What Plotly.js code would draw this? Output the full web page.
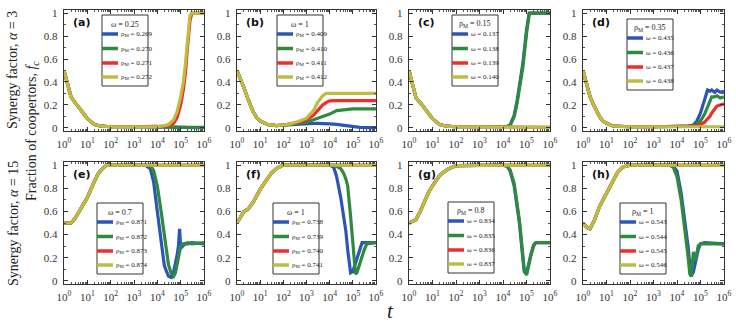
<!DOCTYPE html>
<html>
<head>
<meta charset="utf-8">
<script src="https://cdn.plot.ly/plotly-3.0.1.min.js"></script>
<style>
  html, body { margin: 0; padding: 0; background: #fff; }
  #chart { width: 736px; height: 322px; }
</style>
</head>
<body>
<div id="chart"></div>
<script>
// tick labels
const tickT = [1, 10, 100, 1e3, 1e4, 1e5, 1e6];
const tickTText = ['10<sup>0</sup>', '10<sup>1</sup>', '10<sup>2</sup>', '10<sup>3</sup>', '10<sup>4</sup>', '10<sup>5</sup>', '10<sup>6</sup>'];
const tickF = [0, 0.2, 0.4, 0.6, 0.8, 1];
const tickFText = ['0', '0.2', '0.4', '0.6', '0.8', '1'];

const panelLabels = ['(a)', '(b)', '(c)', '(d)', '(e)', '(f)', '(g)', '(h)'];
const legendTitles = ['ω = 0.25', 'ω = 1', 'ρ<sub>M</sub> = 0.15', 'ρ<sub>M</sub> = 0.35',
                      'ω = 0.7', 'ω = 1', 'ρ<sub>M</sub> = 0.8', 'ρ<sub>M</sub> = 1'];
const seriesNames = [
  ['ρ<sub>M</sub> = 0.269', 'ρ<sub>M</sub> = 0.270', 'ρ<sub>M</sub> = 0.271', 'ρ<sub>M</sub> = 0.272'],
  ['ρ<sub>M</sub> = 0.409', 'ρ<sub>M</sub> = 0.410', 'ρ<sub>M</sub> = 0.411', 'ρ<sub>M</sub> = 0.412'],
  ['ω = 0.137', 'ω = 0.138', 'ω = 0.139', 'ω = 0.140'],
  ['ω = 0.435', 'ω = 0.436', 'ω = 0.437', 'ω = 0.438'],
  ['ρ<sub>M</sub> = 0.871', 'ρ<sub>M</sub> = 0.872', 'ρ<sub>M</sub> = 0.873', 'ρ<sub>M</sub> = 0.874'],
  ['ρ<sub>M</sub> = 0.738', 'ρ<sub>M</sub> = 0.739', 'ρ<sub>M</sub> = 0.740', 'ρ<sub>M</sub> = 0.741'],
  ['ω = 0.834', 'ω = 0.835', 'ω = 0.836', 'ω = 0.837'],
  ['ω = 0.543', 'ω = 0.544', 'ω = 0.545', 'ω = 0.546']
];

// (a) alpha = 3, omega = 0.25
const tA = [1, 1.5, 2, 3, 4, 6, 10, 20, 40, 100, 1e3, 1e4, 2e4, 3e4, 5e4, 7e4, 1e5, 1.3e5, 1.6e5, 2e5, 2.5e5, 3e5, 5e5, 1e6];
const aBlue   = [0.5, 0.37, 0.27, 0.22, 0.19, 0.14, 0.08, 0.03, 0.015, 0.01, 0.01, 0.01, 0.01, 0.008, 0.006, 0.005, 0.004, 0.004, 0.004, 0.003, 0.003, 0.003, 0.003, 0.003];
const aGreen  = [0.5, 0.37, 0.27, 0.22, 0.19, 0.14, 0.08, 0.03, 0.015, 0.01, 0.01, 0.01, 0.012, 0.01, 0.008, 0.006, 0.005, 0.005, 0.004, 0.004, 0.004, 0.004, 0.004, 0.004];
const aRed    = [0.5, 0.37, 0.27, 0.22, 0.19, 0.14, 0.08, 0.03, 0.015, 0.01, 0.01, 0.01, 0.015, 0.02, 0.04, 0.09, 0.2, 0.33, 0.48, 0.72, 0.93, 1, 1, 1];
const aYellow = [0.5, 0.37, 0.27, 0.22, 0.19, 0.14, 0.08, 0.03, 0.015, 0.01, 0.01, 0.01, 0.02, 0.03, 0.07, 0.14, 0.27, 0.4, 0.56, 0.8, 0.98, 1, 1, 1];

// (b) alpha = 3, omega = 1
const tB = [1, 1.5, 2, 3, 5, 7, 10, 20, 50, 100, 200, 500, 1e3, 2e3, 3e3, 5e3, 7e3, 1e4, 2e4, 5e4, 1e5, 2e5, 5e5, 1e6];
const bBlue   = [0.5, 0.42, 0.35, 0.25, 0.14, 0.09, 0.06, 0.03, 0.02, 0.025, 0.03, 0.035, 0.04, 0.04, 0.04, 0.04, 0.038, 0.035, 0.03, 0.02, 0.01, 0.004, 0.003, 0.003];
const bGreen  = [0.5, 0.42, 0.35, 0.25, 0.14, 0.09, 0.06, 0.03, 0.02, 0.025, 0.03, 0.04, 0.05, 0.07, 0.085, 0.1, 0.11, 0.12, 0.15, 0.16, 0.165, 0.165, 0.165, 0.165];
const bRed    = [0.5, 0.42, 0.35, 0.25, 0.14, 0.09, 0.06, 0.03, 0.02, 0.025, 0.033, 0.05, 0.07, 0.11, 0.15, 0.2, 0.22, 0.235, 0.237, 0.237, 0.237, 0.237, 0.237, 0.237];
const bYellow = [0.5, 0.42, 0.35, 0.25, 0.14, 0.09, 0.06, 0.03, 0.02, 0.025, 0.035, 0.06, 0.085, 0.15, 0.22, 0.28, 0.3, 0.3, 0.3, 0.3, 0.3, 0.3, 0.3, 0.3];

// (c) alpha = 3, rhoM = 0.15
const tC = [1, 1.5, 2, 3, 4, 6, 10, 20, 40, 100, 1e3, 1e4, 1.5e4, 2e4, 3e4, 4e4, 5e4, 7e4, 1e5, 1.3e5, 1.5e5, 2e5, 5e5, 1e6];
const cBlue   = [0.5, 0.36, 0.26, 0.22, 0.19, 0.14, 0.08, 0.03, 0.015, 0.01, 0.01, 0.01, 0.012, 0.025, 0.11, 0.24, 0.36, 0.56, 0.85, 1, 1, 1, 1, 1];
const cGreen  = [0.5, 0.36, 0.26, 0.22, 0.19, 0.14, 0.08, 0.03, 0.015, 0.01, 0.01, 0.01, 0.012, 0.02, 0.1, 0.22, 0.33, 0.53, 0.82, 0.99, 1, 1, 1, 1];
const cRed    = [0.5, 0.36, 0.26, 0.22, 0.19, 0.14, 0.08, 0.03, 0.015, 0.01, 0.01, 0.01, 0.01, 0.01, 0.01, 0.008, 0.008, 0.007, 0.006, 0.006, 0.005, 0.005, 0.005, 0.005];
const cYellow = [0.5, 0.36, 0.26, 0.22, 0.19, 0.14, 0.08, 0.03, 0.015, 0.01, 0.01, 0.01, 0.01, 0.01, 0.009, 0.008, 0.008, 0.007, 0.006, 0.006, 0.005, 0.005, 0.005, 0.005];

// (d) alpha = 3, rhoM = 0.35
const tD = [1, 1.5, 2, 3, 5, 7, 10, 20, 50, 100, 1e3, 1e4, 3e4, 5e4, 7e4, 1e5, 1.5e5, 2e5, 2.5e5, 3e5, 4e5, 5e5, 7e5, 1e6];
const dBlue   = [0.5, 0.35, 0.27, 0.19, 0.1, 0.06, 0.04, 0.015, 0.01, 0.01, 0.01, 0.01, 0.015, 0.025, 0.06, 0.13, 0.25, 0.33, 0.32, 0.33, 0.31, 0.33, 0.31, 0.32];
const dGreen  = [0.5, 0.35, 0.27, 0.19, 0.1, 0.06, 0.04, 0.015, 0.01, 0.01, 0.01, 0.01, 0.012, 0.015, 0.03, 0.06, 0.12, 0.18, 0.24, 0.27, 0.27, 0.28, 0.26, 0.27];
const dRed    = [0.5, 0.35, 0.27, 0.19, 0.1, 0.06, 0.04, 0.015, 0.01, 0.01, 0.01, 0.01, 0.01, 0.01, 0.015, 0.03, 0.05, 0.08, 0.1, 0.13, 0.17, 0.19, 0.2, 0.21];
const dYellow = [0.5, 0.35, 0.27, 0.19, 0.1, 0.06, 0.04, 0.015, 0.01, 0.01, 0.01, 0.01, 0.01, 0.01, 0.01, 0.01, 0.01, 0.01, 0.01, 0.01, 0.01, 0.01, 0.01, 0.01];

// (e) alpha = 15, omega = 0.7
const tE = [1, 2, 3, 5, 7, 10, 20, 30, 50, 70, 100, 1e3, 3e3, 5e3, 7e3, 1e4, 1.5e4, 2e4, 3e4, 4e4, 5e4, 6e4, 7e4, 8e4, 9e4, 1e5, 1.2e5, 1.5e5, 2e5, 3e5, 1e6];
const eBlue   = [0.5, 0.5, 0.54, 0.62, 0.67, 0.72, 0.86, 0.93, 0.98, 1, 1, 1, 1, 0.97, 0.85, 0.6, 0.3, 0.13, 0.04, 0.03, 0.08, 0.15, 0.22, 0.3, 0.45, 0.28, 0.3, 0.32, 0.32, 0.33, 0.32];
const eGreen  = [0.5, 0.5, 0.54, 0.62, 0.67, 0.72, 0.86, 0.93, 0.98, 1, 1, 1, 1, 1, 0.95, 0.82, 0.58, 0.38, 0.14, 0.06, 0.04, 0.07, 0.13, 0.19, 0.25, 0.3, 0.32, 0.32, 0.33, 0.32, 0.33];
const eRed    = [0.5, 0.5, 0.54, 0.62, 0.67, 0.72, 0.86, 0.93, 0.98, 1, 1, 1, 1, 1, 1, 1, 1, 1, 1, 1, 1, 1, 1, 1, 1, 1, 1, 1, 1, 1, 1];
const eYellow = [0.5, 0.5, 0.54, 0.62, 0.67, 0.72, 0.86, 0.93, 0.98, 1, 1, 1, 1, 1, 1, 1, 1, 1, 1, 1, 1, 1, 1, 1, 1, 1, 1, 1, 1, 1, 1];

// (f) alpha = 15, omega = 1
const tF = [1, 2, 3, 5, 10, 20, 30, 50, 100, 1e3, 1e4, 1.5e4, 2e4, 3e4, 4e4, 5e4, 6e4, 7e4, 8e4, 1e5, 1.2e5, 1.3e5, 1.5e5, 2e5, 2.5e5, 3e5, 4e5, 1e6];
const fBlue   = [0.5, 0.6, 0.62, 0.68, 0.79, 0.88, 0.93, 0.97, 1, 1, 1, 0.98, 0.9, 0.72, 0.57, 0.43, 0.27, 0.15, 0.07, 0.08, 0.13, 0.16, 0.2, 0.28, 0.33, 0.33, 0.33, 0.33];
const fGreen  = [0.5, 0.6, 0.62, 0.68, 0.79, 0.88, 0.93, 0.97, 1, 1, 1, 1, 0.99, 0.97, 0.93, 0.88, 0.82, 0.7, 0.56, 0.33, 0.12, 0.06, 0.07, 0.14, 0.21, 0.26, 0.32, 0.33];
const fRed    = [0.5, 0.6, 0.62, 0.68, 0.79, 0.88, 0.93, 0.97, 1, 1, 1, 1, 1, 1, 1, 1, 1, 1, 1, 1, 1, 1, 1, 1, 1, 1, 1, 1];
const fYellow = [0.5, 0.6, 0.62, 0.68, 0.79, 0.88, 0.93, 0.97, 1, 1, 1, 1, 1, 1, 1, 1, 1, 1, 1, 1, 1, 1, 1, 1, 1, 1, 1, 1];

// (g) alpha = 15, rhoM = 0.8
const tG = [1, 2, 3, 5, 7, 10, 20, 30, 50, 100, 1e3, 1e4, 1.5e4, 2e4, 3e4, 4e4, 5e4, 6e4, 7e4, 8e4, 1e5, 1.2e5, 1.5e5, 2e5, 2.5e5, 3e5, 1e6];
const gBlue   = [0.5, 0.53, 0.6, 0.71, 0.77, 0.82, 0.91, 0.94, 0.97, 0.995, 1, 1, 0.99, 0.95, 0.82, 0.66, 0.5, 0.33, 0.19, 0.08, 0.06, 0.14, 0.22, 0.31, 0.33, 0.33, 0.33];
const gGreen  = [0.5, 0.53, 0.6, 0.71, 0.77, 0.82, 0.91, 0.94, 0.97, 0.995, 1, 1, 0.99, 0.96, 0.84, 0.68, 0.52, 0.36, 0.22, 0.1, 0.05, 0.13, 0.21, 0.3, 0.33, 0.33, 0.33];
const gRed    = [0.5, 0.53, 0.6, 0.71, 0.77, 0.82, 0.91, 0.94, 0.97, 0.995, 1, 1, 1, 1, 1, 1, 1, 1, 1, 1, 1, 1, 1, 1, 1, 1, 1];
const gYellow = [0.5, 0.53, 0.6, 0.71, 0.77, 0.82, 0.91, 0.94, 0.97, 0.995, 1, 1, 1, 1, 1, 1, 1, 1, 1, 1, 1, 1, 1, 1, 1, 1, 1];

// (h) alpha = 15, rhoM = 1
const tH = [1, 1.5, 2, 3, 5, 10, 20, 30, 50, 100, 1e3, 5e3, 7e3, 1e4, 1.5e4, 2e4, 2.5e4, 3e4, 3.5e4, 4e4, 5e4, 6e4, 7e4, 8e4, 1e5, 1.5e5, 1e6];
const hBlue   = [0.5, 0.46, 0.45, 0.52, 0.64, 0.76, 0.88, 0.94, 0.985, 1, 1, 1, 0.99, 0.95, 0.76, 0.58, 0.42, 0.29, 0.14, 0.04, 0.08, 0.16, 0.22, 0.27, 0.32, 0.33, 0.32];
const hGreen  = [0.5, 0.46, 0.45, 0.52, 0.64, 0.76, 0.88, 0.94, 0.985, 1, 1, 1, 0.98, 0.9, 0.7, 0.5, 0.35, 0.2, 0.06, 0.04, 0.25, 0.18, 0.24, 0.3, 0.32, 0.32, 0.32];
const hRed    = [0.5, 0.46, 0.45, 0.52, 0.64, 0.76, 0.88, 0.94, 0.985, 1, 1, 1, 1, 1, 1, 1, 1, 1, 1, 1, 1, 1, 1, 1, 1, 1, 1];
const hYellow = [0.5, 0.46, 0.45, 0.52, 0.64, 0.76, 0.88, 0.94, 0.985, 1, 1, 1, 1, 1, 1, 1, 1, 1, 1, 1, 1, 1, 1, 1, 1, 1, 1];

const panels = [
  { t: tA, ys: [aBlue, aGreen, aRed, aYellow] },
  { t: tB, ys: [bBlue, bGreen, bRed, bYellow] },
  { t: tC, ys: [cBlue, cGreen, cRed, cYellow] },
  { t: tD, ys: [dBlue, dGreen, dRed, dYellow] },
  { t: tE, ys: [eBlue, eGreen, eRed, eYellow] },
  { t: tF, ys: [fBlue, fGreen, fRed, fYellow] },
  { t: tG, ys: [gBlue, gGreen, gRed, gYellow] },
  { t: tH, ys: [hBlue, hGreen, hRed, hYellow] }
];

const colors = ['#2b56b8', '#2f8a3f', '#f02c2c', '#bdbd42'];

// layout in pixels of the 736x322 page
const W = 736, H = 322;
const colPx = [[64, 204], [237, 376], [409, 550], [583, 724]];
const rowPx = [[10, 131], [162, 284]];
const legendPx = [[102, 15], [277, 15], [452, 15], [627, 19], [97, 203], [273, 203], [448, 202], [620, 203]];
const px = v => v / W;
const py = v => 1 - v / H;

const serif = 'Liberation Serif, Times New Roman, serif';
const data = [];
const layout = {
  width: W, height: H,
  margin: { l: 0, r: 0, t: 0, b: 0 },
  paper_bgcolor: '#fff', plot_bgcolor: '#fff',
  showlegend: false,
  shapes: [],
  annotations: []
};

panels.forEach((p, i) => {
  const n = i + 1;
  const xa = 'x' + (n === 1 ? '' : n), ya = 'y' + (n === 1 ? '' : n);
  p.ys.forEach((y, k) => {
    data.push({
      x: p.t, y: y, xaxis: xa, yaxis: ya,
      type: 'scatter', mode: 'lines',
      line: { color: colors[k], width: 3.2 },
      name: seriesNames[i][k], hoverinfo: 'skip'
    });
  });
  const col = colPx[i % 4], row = rowPx[Math.floor(i / 4)];
  const axBase = {
    showline: true, linecolor: '#333', linewidth: 1.4, mirror: 'allticks',
    ticks: 'inside', ticklen: 4, tickcolor: '#333', tickwidth: 1,
    showgrid: false, zeroline: false,
    tickfont: { family: serif, size: 11, color: '#333' },
    fixedrange: true
  };
  layout['xaxis' + (n === 1 ? '' : n)] = Object.assign({}, axBase, {
    type: 'log', range: [0, 6], domain: [px(col[0]), px(col[1])], anchor: ya,
    tickmode: 'array', tickvals: tickT, ticktext: tickTText,
    minor: { ticks: 'inside', ticklen: 2, tickcolor: '#555', dtick: 'D1', showgrid: false },
    ticklabelstandoff: 2
  });
  layout['yaxis' + (n === 1 ? '' : n)] = Object.assign({}, axBase, {
    range: [-0.027, 1.027], domain: [py(row[1]), py(row[0])], anchor: xa,
    tickmode: 'array', tickvals: tickF, ticktext: tickFText,
    minor: { ticks: 'inside', ticklen: 2, tickcolor: '#555', dtick: 0.1, showgrid: false },
    ticklabelstandoff: 3
  });

  // panel label
  layout.annotations.push({
    xref: 'paper', yref: 'paper', x: px(col[0] + 7), y: py(row[0] + 12),
    xanchor: 'left', yanchor: 'middle', showarrow: false,
    text: '<b>' + panelLabels[i] + '</b>',
    font: { family: 'DejaVu Sans, Arial, sans-serif', size: 11, color: '#111' }
  });

  // legend box
  const [lx, ly] = legendPx[i];
  const bw = 46, bh = 71;
  layout.shapes.push({
    type: 'rect', xref: 'paper', yref: 'paper',
    x0: px(lx), x1: px(lx + bw), y0: py(ly), y1: py(ly + bh),
    line: { color: '#333', width: 1 }, fillcolor: '#fff'
  });
  layout.annotations.push({
    xref: 'paper', yref: 'paper', x: px(lx + bw / 2), y: py(ly + 9),
    xanchor: 'center', yanchor: 'middle', showarrow: false,
    text: legendTitles[i], font: { family: serif, size: 8, color: '#222' }
  });
  const rowsY = [19, 33.5, 48, 62];
  seriesNames[i].forEach((nm, k) => {
    layout.shapes.push({
      type: 'line', xref: 'paper', yref: 'paper',
      x0: px(lx), x1: px(lx + 16), y0: py(ly + rowsY[k]), y1: py(ly + rowsY[k]),
      line: { color: colors[k], width: 3.5 }
    });
    layout.annotations.push({
      xref: 'paper', yref: 'paper', x: px(lx + 16.5), y: py(ly + rowsY[k]),
      xanchor: 'left', yanchor: 'middle', showarrow: false,
      text: nm, font: { family: serif, size: 7, color: '#222' }
    });
  });
});

// axis titles
layout.annotations.push(
  { xref: 'paper', yref: 'paper', x: px(13), y: py(70), textangle: -90, showarrow: false,
    xanchor: 'center', yanchor: 'middle',
    text: 'Synergy factor, <i>α</i> = 3', font: { family: serif, size: 14, color: '#222' } },
  { xref: 'paper', yref: 'paper', x: px(13), y: py(224), textangle: -90, showarrow: false,
    xanchor: 'center', yanchor: 'middle',
    text: 'Synergy factor, <i>α</i> = 15', font: { family: serif, size: 14, color: '#222' } },
  { xref: 'paper', yref: 'paper', x: px(33), y: py(131), textangle: -90, showarrow: false,
    xanchor: 'center', yanchor: 'middle',
    text: 'Fraction of coopertors, <i>f<sub>c</sub></i>', font: { family: serif, size: 14, color: '#222' } },
  { xref: 'paper', yref: 'paper', x: px(390), y: py(311), showarrow: false,
    xanchor: 'center', yanchor: 'middle',
    text: '<i>t</i>', font: { family: serif, size: 21, color: '#222' } }
);

Plotly.newPlot('chart', data, layout, { staticPlot: true, displayModeBar: false });
</script>
</body>
</html>
